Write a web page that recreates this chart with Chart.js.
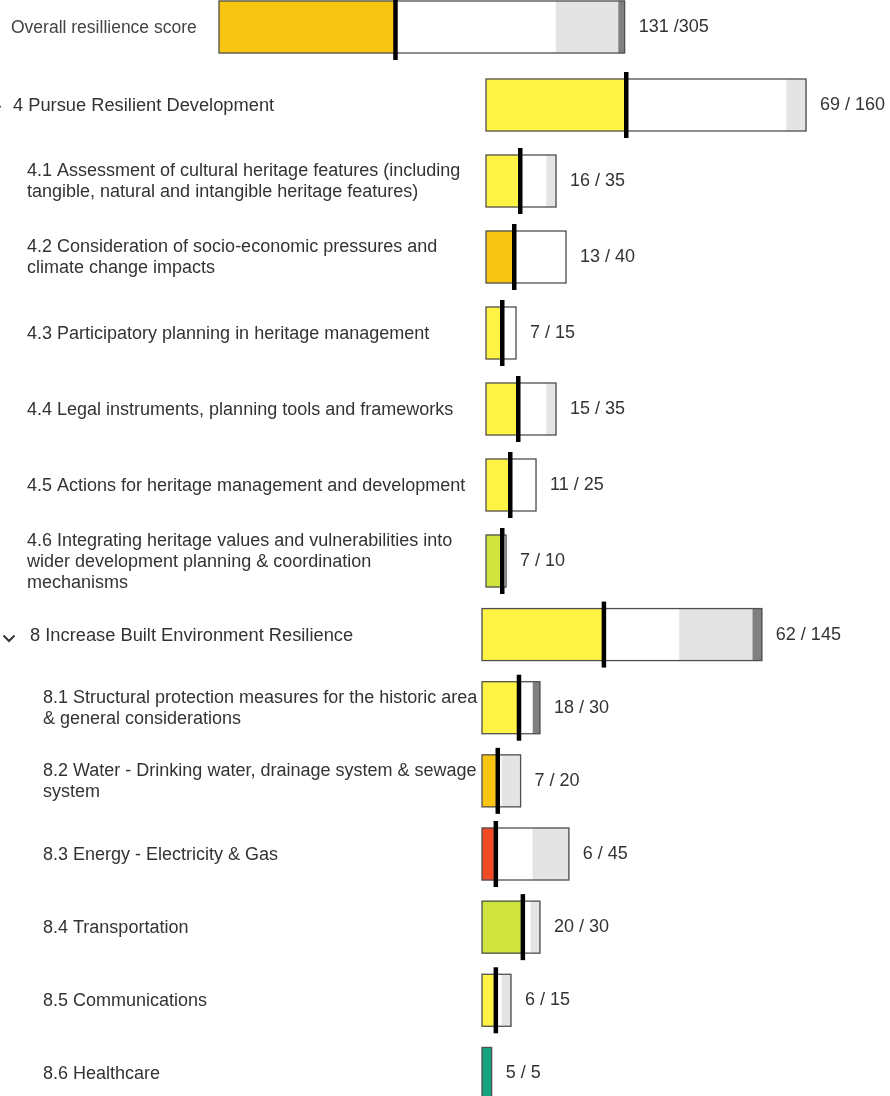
<!DOCTYPE html>
<html lang="en">
<head>
<meta charset="utf-8">
<title>Resilience scorecard</title>
<script src="https://cdn.jsdelivr.net/npm/chart.js@4.4.1/dist/chart.umd.min.js"></script>
<style>
  html, body { margin: 0; padding: 0; background: #fff; }
  body { position: relative; width: 890px; height: 1096px; overflow: hidden; }
  canvas { position: absolute; left: 0; }
</style>
</head>
<body>
<canvas id="overall"></canvas>
<canvas id="pursue"></canvas>
<canvas id="built"></canvas>
<script>
// Rating band colours
const AMBER = '#f8c512';
const YELLOW = '#fff345';
const LIME = '#cfe43f';
const RED = '#f34a26';
const TEAL = '#13a37f';

// Overall
const overallLabels = [['Overall resillience score']];
const overallScores = [131];
const overallTotals = [305];
const overallMissing = [47];
const overallExcluded = [5];
const overallColors = [AMBER];

// 4 Pursue Resilient Development
const pursueLabels = [
    ['4 Pursue Resilient Development'],
    ['4.1 Assessment of cultural heritage features (including', 'tangible, natural and intangible heritage features)'],
    ['4.2 Consideration of socio-economic pressures and', 'climate change impacts'],
    ['4.3 Participatory planning in heritage management'],
    ['4.4 Legal instruments, planning tools and frameworks'],
    ['4.5 Actions for heritage management and development'],
    ['4.6 Integrating heritage values and vulnerabilities into', 'wider development planning & coordination', 'mechanisms']
];
const pursueScores = [69, 16, 13, 7, 15, 11, 7];
const pursueTotals = [160, 35, 40, 15, 35, 25, 10];
const pursueMissing = [10, 5, 0, 0, 5, 0, 0];
const pursueExcluded = [0, 0, 0, 0, 0, 0, 0];
const pursueColors = [YELLOW, YELLOW, AMBER, YELLOW, YELLOW, YELLOW, LIME];

// 8 Increase Built Environment Resilience
const builtLabels = [
    ['8 Increase Built Environment Resilience'],
    ['8.1 Structural protection measures for the historic area', '& general considerations'],
    ['8.2 Water - Drinking water, drainage system & sewage', 'system'],
    ['8.3 Energy - Electricity & Gas'],
    ['8.4 Transportation'],
    ['8.5 Communications'],
    ['8.6 Healthcare']
];
const builtScores = [62, 18, 7, 6, 20, 6, 5];
const builtTotals = [145, 30, 20, 45, 30, 15, 5];
const builtMissing = [38, 0, 10, 19, 5, 5, 0];
const builtExcluded = [5, 4, 0, 0, 0, 0, 0];
const builtColors = [YELLOW, YELLOW, AMBER, RED, LIME, YELLOW, TEAL];

const FONT = '"Liberation Sans", Arial, sans-serif';
const TEXT = '#333';

// Outline, score marker, value text, row labels and the collapse chevron
const scorecard = {
    id: 'scorecard',
    afterDatasetsDraw(chart, args, o) {
        const { ctx, scales: { x } } = chart;
        const meta = chart.getDatasetMeta(0);
        ctx.save();
        o.totals.forEach((total, i) => {
            const { y, height } = meta.data[i].getProps(['y', 'height'], true);
            const top = y - height / 2;
            const x0 = x.getPixelForValue(0);
            const x1 = x.getPixelForValue(total);

            ctx.strokeStyle = '#505050';
            ctx.lineWidth = 1.3;
            ctx.strokeRect(x0, top, x1 - x0, height);

            if (o.scores[i] < total) {
                const xs = x.getPixelForValue(o.scores[i]);
                ctx.fillStyle = '#000';
                ctx.fillRect(xs, top - 7, 4.5, height + 14);
            }

            ctx.fillStyle = TEXT;
            ctx.font = '18px ' + FONT;
            ctx.textBaseline = 'middle';
            ctx.textAlign = 'left';
            ctx.fillText(o.scores[i] + o.sep + total, x1 + 14, y);
        });
        ctx.restore();
    },
    afterDraw(chart, args, o) {
        const { ctx, scales: { y } } = chart;
        ctx.save();
        ctx.textBaseline = 'middle';
        ctx.textAlign = 'left';
        o.labels.forEach((lines, i) => {
            const yc = y.getPixelForValue(i) + 1;
            const header = i === 0;
            ctx.fillStyle = o.labelColor;
            ctx.font = (header ? o.headerSize : 18) + 'px ' + FONT;
            const lx = header ? o.headerX : o.childX;
            const y0 = yc - (lines.length - 1) * 21 / 2;
            lines.forEach((line, k) => ctx.fillText(line, lx, y0 + k * 21));

            if (header && o.chevronX !== null) {
                const cx = o.chevronX, cy = yc + 3;
                ctx.strokeStyle = '#333';
                ctx.lineWidth = 2;
                ctx.beginPath();
                ctx.moveTo(cx - 5.5, cy - 3);
                ctx.lineTo(cx, cy + 2.5);
                ctx.lineTo(cx + 5.5, cy - 3);
                ctx.stroke();
            }
        });
        ctx.restore();
    }
};

function makePanel(id, d, layout) {
    const canvas = document.getElementById(id);
    canvas.width = 890;
    canvas.height = layout.rowHeight * d.labels.length;
    canvas.style.top = layout.top + 'px';

    const open = d.totals.map((t, i) => t - d.scores[i] - d.missing[i] - d.excluded[i]);
    const seg = (data, color) => ({
        data: data,
        backgroundColor: color,
        borderWidth: 0,
        barThickness: 52,
        stack: 'bar'
    });

    return new Chart(canvas.getContext('2d'), {
        type: 'bar',
        data: {
            labels: d.labels.map(l => l.join(' ')),
            datasets: [
                seg(d.scores, d.colors),
                seg(open, '#ffffff'),
                seg(d.missing, '#e4e4e4'),
                seg(d.excluded, '#808080')
            ]
        },
        options: {
            indexAxis: 'y',
            responsive: false,
            animation: false,
            layout: { padding: { left: layout.barLeft, right: 0, top: 0, bottom: 0 } },
            scales: {
                x: { stacked: true, display: false, min: 0, max: (890 - layout.barLeft) / layout.pxPerUnit },
                y: { stacked: true, display: false }
            },
            plugins: {
                legend: { display: false },
                tooltip: { enabled: false },
                scorecard: {
                    labels: d.labels,
                    scores: d.scores,
                    totals: d.totals,
                    sep: layout.sep,
                    headerX: layout.headerX,
                    childX: layout.childX,
                    headerSize: layout.headerSize,
                    labelColor: layout.labelColor,
                    chevronX: layout.chevronX
                }
            }
        },
        plugins: [scorecard]
    });
}

makePanel('overall', {
    labels: overallLabels, scores: overallScores, totals: overallTotals,
    missing: overallMissing, excluded: overallExcluded, colors: overallColors
}, { top: -12, rowHeight: 78, barLeft: 219, pxPerUnit: 1.33, sep: ' /',
     headerX: 11, childX: 11, headerSize: 17.5, labelColor: '#444', chevronX: null });

makePanel('pursue', {
    labels: pursueLabels, scores: pursueScores, totals: pursueTotals,
    missing: pursueMissing, excluded: pursueExcluded, colors: pursueColors
}, { top: 67, rowHeight: 76.1, barLeft: 486, pxPerUnit: 2, sep: ' / ',
     headerX: 13, childX: 27, headerSize: 18.3, labelColor: TEXT, chevronX: -5 });

makePanel('built', {
    labels: builtLabels, scores: builtScores, totals: builtTotals,
    missing: builtMissing, excluded: builtExcluded, colors: builtColors
}, { top: 598, rowHeight: 73.2, barLeft: 482, pxPerUnit: 1.93, sep: ' / ',
     headerX: 30, childX: 43, headerSize: 18.3, labelColor: TEXT, chevronX: 9 });
</script>
</body>
</html>
